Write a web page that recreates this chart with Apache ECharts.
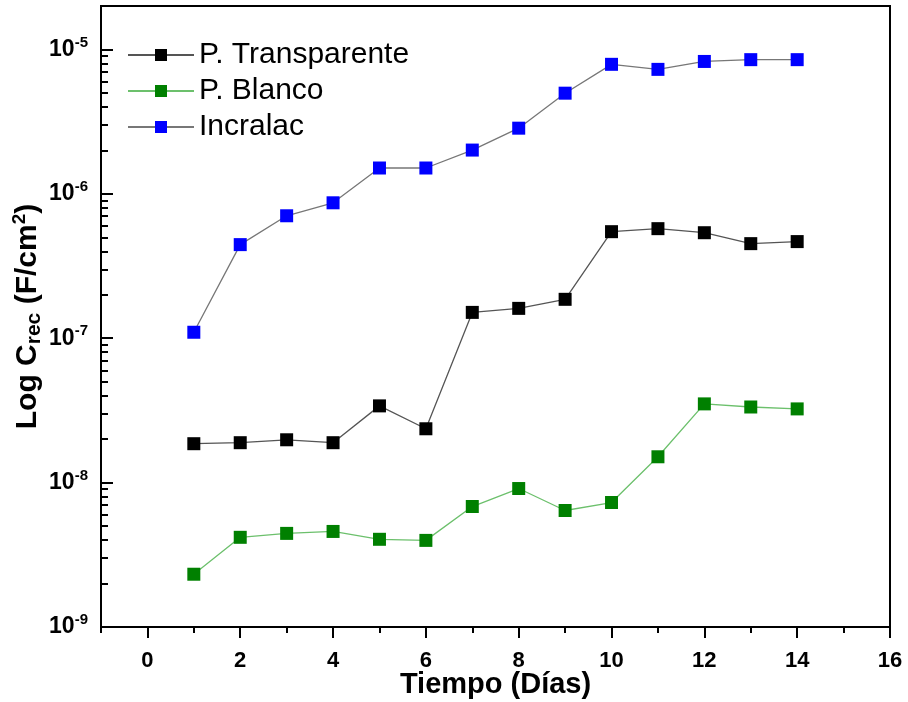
<!DOCTYPE html>
<html><head><meta charset="utf-8">
<script src="https://cdn.jsdelivr.net/npm/echarts@6/dist/echarts.min.js"></script>
<style>html,body{margin:0;padding:0;background:#fff}#c{width:908px;height:702px}</style>
</head><body><div id="c"></div>
<script>
const days = [1,2,3,4,5,6,7,8,9,10,11,12,13,14];
const seriesNames = ['P. Transparente','P. Blanco','Incralac'];
const transparente = [1.86e-8,1.89e-8,1.98e-8,1.89e-8,3.4e-8,2.36e-8,1.51e-7,1.61e-7,1.86e-7,5.47e-7,5.74e-7,5.38e-7,4.52e-7,4.67e-7];
const blanco = [2.32e-9,4.18e-9,4.45e-9,4.59e-9,4.05e-9,3.98e-9,6.83e-9,9.1e-9,6.41e-9,7.28e-9,1.51e-8,3.51e-8,3.34e-8,3.24e-8];
const incralac = [1.1e-7,4.45e-7,7.05e-7,8.67e-7,1.51e-6,1.51e-6,2.01e-6,2.85e-6,4.98e-6,7.89e-6,7.28e-6,8.26e-6,8.5e-6,8.5e-6];
const xMajorTicks = [0,2,4,6,8,10,12,14,16];
const xMinorTicks = [-1,1,3,5,7,9,11,13,15];
const yMajorTicks = [1e-9,1e-8,1e-7,1e-6,1e-5];
const yMinorTicks = [];
for (let e = -9; e <= -5; e++) for (let m = 2; m <= 9; m++) { const v = m * Math.pow(10, e); if (v <= 2e-5) yMinorTicks.push(v); }

const FONT = 'Arial, "Liberation Sans", sans-serif';
const chart = echarts.init(document.getElementById('c'));
function pairs(arr){ return days.map((d,i)=>[d,arr[i]]); }
const yLabelFmt = v => { const e = Math.round(Math.log10(v)); return '{b|10}{s|' + e + '}'; };

chart.setOption({
  animation: false,
  textStyle: { fontFamily: FONT },
  grid: { left: 101, top: 6, right: 18, bottom: 75, outerBoundsMode: 'none', containLabel: false, show: true, borderColor: '#000', borderWidth: 2, backgroundColor: 'transparent' },
  legend: {
    orient: 'vertical', left: 127, top: 40, padding: 0, itemWidth: 66, itemHeight: 15, itemGap: 6,
    textStyle: { fontSize: 30, color: '#000', fontFamily: FONT },
    data: seriesNames
  },
  xAxis: [{
    type: 'value', min: -1, max: 16,
    axisLine: { show: true, onZero: false, lineStyle: { color: '#000', width: 2 } },
    axisTick: { show: true, length: 11, lineStyle: { color: '#000', width: 2 }, customValues: xMajorTicks },
    axisLabel: { show: true, margin: 23, fontSize: 22, fontWeight: 'bold', color: '#000', customValues: xMajorTicks, fontFamily: FONT },
    splitLine: { show: false },
    name: 'Tiempo (Días)', nameLocation: 'middle', nameGap: 43, nameMoveOverlap: false,
    nameTextStyle: { fontSize: 29, fontWeight: 'bold', color: '#000', fontFamily: FONT }
  }, {
    type: 'value', min: -1, max: 16, position: 'bottom',
    axisLine: { show: false, onZero: false },
    axisTick: { show: true, length: 6, lineStyle: { color: '#000', width: 2 }, customValues: xMinorTicks },
    axisLabel: { show: false }, splitLine: { show: false }
  }],
  yAxis: [{
    type: 'log', logBase: 10, min: 1e-9, max: 2e-5,
    axisLine: { show: true, onZero: false, lineStyle: { color: '#000', width: 2 } },
    axisTick: { show: true, inside: true, length: 12, lineStyle: { color: '#000', width: 2 }, customValues: yMajorTicks },
    axisLabel: {
      show: true, margin: 13, customValues: yMajorTicks, formatter: yLabelFmt,
      rich: {
        b: { fontSize: 23, fontWeight: 'bold', color: '#000', fontFamily: FONT },
        s: { fontSize: 15, fontWeight: 'bold', color: '#000', fontFamily: FONT, padding: [0,0,14,0] }
      }
    },
    splitLine: { show: false },
    name: 'Log C{sub|rec} (F/cm{sup|2})', nameLocation: 'middle', nameGap: 56, nameRotate: 90, nameMoveOverlap: false,
    nameTextStyle: {
      fontSize: 30, fontWeight: 'bold', color: '#000', fontFamily: FONT,
      rich: {
        sub: { fontSize: 21, fontWeight: 'bold', color: '#000', fontFamily: FONT, padding: [14,0,0,0] },
        sup: { fontSize: 19, fontWeight: 'bold', color: '#000', fontFamily: FONT, padding: [0,0,16,0] }
      }
    }
  }, {
    type: 'log', logBase: 10, min: 1e-9, max: 2e-5, position: 'left',
    axisLine: { show: false, onZero: false },
    axisTick: { show: true, inside: true, length: 7, lineStyle: { color: '#000', width: 2 }, customValues: yMinorTicks },
    axisLabel: { show: false }, splitLine: { show: false }
  }],
  series: [
    { name: seriesNames[0], type: 'line', data: pairs(transparente), symbol: 'rect', symbolSize: 13,
      itemStyle: { color: '#000' }, lineStyle: { color: '#555', width: 1.3 } },
    { name: seriesNames[1], type: 'line', data: pairs(blanco), symbol: 'rect', symbolSize: 13,
      itemStyle: { color: '#008000' }, lineStyle: { color: '#6cc06c', width: 1.3 } },
    { name: seriesNames[2], type: 'line', data: pairs(incralac), symbol: 'rect', symbolSize: 13,
      itemStyle: { color: '#0000ff' }, lineStyle: { color: '#777', width: 1.3 } }
  ]
});
</script></body></html>
